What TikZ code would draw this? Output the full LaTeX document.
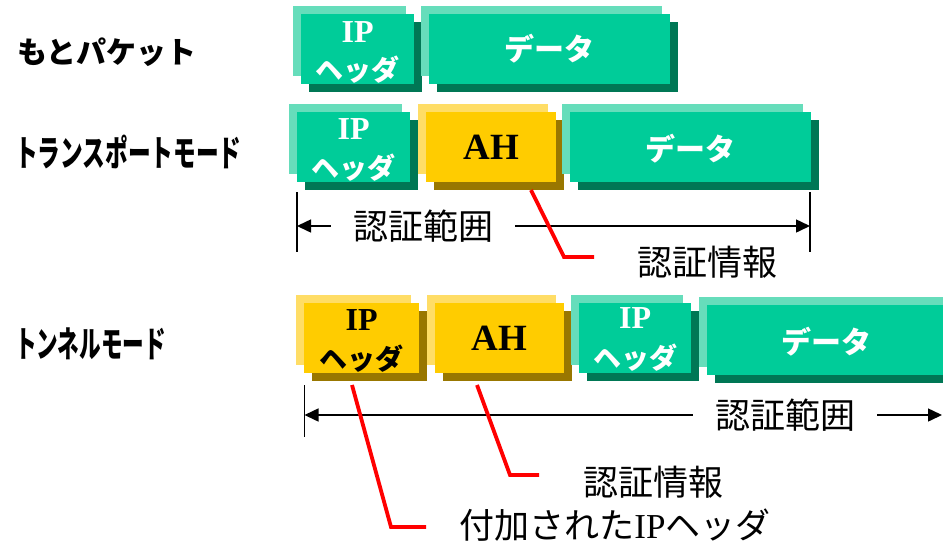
\documentclass[tikz,border=0pt]{standalone}
\usepackage{fontspec}
\usetikzlibrary{arrows.meta,shadows,calc}
\newfontfamily\jp{Noto Sans CJK JP}
\newfontfamily\tms{Liberation Serif}
\definecolor{gmain}{HTML}{00CC99}
\definecolor{glight}{HTML}{66DDBB}
\definecolor{gdark}{HTML}{007755}
\definecolor{ymain}{HTML}{FFCC00}
\definecolor{ylight}{HTML}{FFDD66}
\definecolor{ydark}{HTML}{997700}
\tikzset{
  pkt/.style={rectangle, inner sep=0pt, minimum height=70pt, anchor=north west},
  gbox/.style={pkt, fill=gmain,
    general shadow={shadow xshift=-8pt, shadow yshift=8pt, fill=glight},
    general shadow={shadow xshift=8pt, shadow yshift=-8pt, fill=gdark}},
  ybox/.style={pkt, fill=ymain,
    general shadow={shadow xshift=-8pt, shadow yshift=8pt, fill=ylight},
    general shadow={shadow xshift=8pt, shadow yshift=-8pt, fill=ydark}},
  iptxt/.style={inner sep=0pt, font=\tms\bfseries\fontsize{32}{32}\selectfont},
  hdtxt/.style={inner sep=0pt, font=\jp\bfseries\fontsize{28}{28}\selectfont},
  ahtxt/.style={inner sep=0pt, font=\tms\bfseries\fontsize{37}{37}\selectfont},
  datxt/.style={inner sep=0pt, text=white, font=\jp\bfseries\fontsize{30}{30}\selectfont},
  modelbl/.style={inner sep=0pt, anchor=west, font=\jp\bfseries\fontsize{30}{30}\selectfont},
  modecnd/.style={inner sep=0pt, anchor=west, font=\jp\bfseries\fontsize{36}{36}\selectfont},
  lbl/.style={inner ysep=0pt, inner xsep=22pt, font=\jp\fontsize{35}{35}\selectfont},
  rng/.style={line width=1.5pt, -{Triangle[length=14pt,width=13pt]}},
  tickl/.style={line width=1.5pt},
  redl/.style={line width=3.8pt, red}
}
\begin{document}
\begin{tikzpicture}[x=1pt,y=-1pt]
\useasboundingbox (0,0) rectangle (943,547);
% labels
\node[modelbl] (m1) at (17,52) {もとパケット};
\node[modecnd] (m2) at (15,152) {\scalebox{0.63}[1]{トランスポートモード}};
\node[modecnd] (m3) at (15,344) {\scalebox{0.60}[1]{トンネルモード}};
% row 1
\node[gbox, minimum width=113pt] (a1) at (301,14) {};
\node[gbox, minimum width=241pt] (a2) at (429,14) {};
\node[iptxt, text=white] (a1i) at ($(a1.center)+(0,-17)$) {IP};
\node[hdtxt, text=white] (a1h) at ($(a1.center)+(0,20)$) {ヘッダ};
\node[datxt] (a2d) at ($(a2.center)+(0,-1)$) {データ};
% row 2
\node[gbox, minimum width=113pt] (b1) at (297,112) {};
\node[ybox, minimum width=130pt] (b2) at (426,112) {};
\node[gbox, minimum width=241pt] (b3) at (570,112) {};
\node[iptxt, text=white] (b1i) at ($(b1.center)+(0,-18)$) {IP};
\node[hdtxt, text=white] (b1h) at ($(b1.center)+(0,20)$) {ヘッダ};
\node[ahtxt] (b2a) at (b2.center) {AH};
\node[datxt] (b3d) at ($(b3.center)+(0,1)$) {データ};
\coordinate (bl) at (297,226);
\coordinate (br) at (810,226);
\coordinate (blt) at (297,192);
\coordinate (blb) at (297,252);
\coordinate (brt) at (810,192);
\coordinate (brb) at (810,252);
\draw[tickl] (blt) -- (blb);
\draw[tickl] (brt) -- (brb);
\node[lbl] (bs) at (423,226) {認証範囲};
\draw[rng] (bs.west) -- (bl);
\draw[rng] (bs.east) -- (br);
\coordinate (r2a) at (531,190);
\coordinate (r2b) at (564,257);
\coordinate (r2c) at (594,257);
\draw[redl] (r2a) -- (r2b) -- (r2c);
\node[lbl, inner xsep=0pt] (bi) at (707,262) {認証情報};
% row 3
\node[ybox, minimum width=115pt] (c1) at (304,303) {};
\node[ybox, minimum width=129pt] (c2) at (435,303) {};
\node[gbox, minimum width=112pt] (c3) at (579,303) {};
\node[gbox, minimum width=260pt] (c4) at (707,305) {};
\node[iptxt] (c1i) at ($(c1.center)+(0,-18)$) {IP};
\node[hdtxt] (c1h) at ($(c1.center)+(0,20)$) {ヘッダ};
\node[ahtxt] (c2a) at (c2.center) {AH};
\node[iptxt, text=white] (c3i) at ($(c3.center)+(0,-20)$) {IP};
\node[hdtxt, text=white] (c3h) at ($(c3.center)+(0,19)$) {ヘッダ};
\node[datxt] (c4d) at (826,342) {データ};
\coordinate (cl) at (304.5,415);
\coordinate (cr) at (942,415);
\coordinate (clt) at (304.5,385);
\coordinate (clb) at (304.5,437);
\draw[tickl] (clt) -- (clb);
\node[lbl] (cs) at (785,415) {認証範囲};
\draw[rng] (cs.west) -- (cl);
\draw[rng] (cs.east) -- (cr);
\coordinate (r3a) at (352,385);
\coordinate (r3b) at (391,527);
\coordinate (r3c) at (426,527);
\draw[redl] (r3a) -- (r3b) -- (r3c);
\coordinate (r4a) at (477,385);
\coordinate (r4b) at (510,475);
\coordinate (r4c) at (539,475);
\draw[redl] (r4a) -- (r4b) -- (r4c);
\node[lbl, inner xsep=0pt] (ci) at (653,482) {認証情報};
\node[lbl, inner xsep=0pt] (cf) at (615,525) {付加された{\tms IP}ヘッダ};
\end{tikzpicture}
\end{document}
